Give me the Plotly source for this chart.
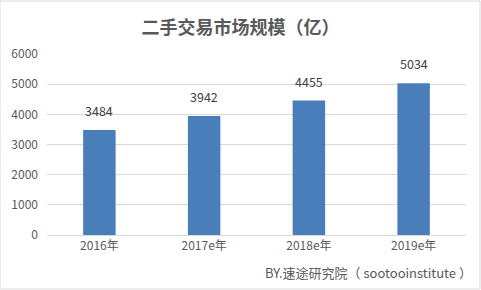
import plotly.graph_objects as go

categories = ["2016年", "2017e年", "2018e年", "2019e年"]
values = [3484, 3942, 4455, 5034]
tick_vals = [0, 1000, 2000, 3000, 4000, 5000, 6000]

fig = go.Figure()
fig.add_trace(go.Bar(
    x=categories, y=values,
    marker=dict(color="#4a7ebb", line=dict(width=0)),
))

for c, v in zip(categories, values):
    fig.add_annotation(x=c, y=v, text=str(v), showarrow=False, yanchor="bottom", yshift=8,
                       font=dict(size=12.5, color="#404040", family="Noto Sans CJK SC, sans-serif"))

fig.update_layout(
    width=481, height=290,
    margin=dict(l=47, r=15, t=54, b=55),
    paper_bgcolor="white", plot_bgcolor="white",
    bargap=0.69,
    showlegend=False,
    font=dict(family="Noto Sans CJK SC, sans-serif", color="#595959", size=12),
    title=dict(text="<b>二手交易市场规模（亿）</b>", x=0.5, xanchor="center", y=0.905, yanchor="middle",
               font=dict(size=18, color="#595959", family="Noto Sans CJK SC, sans-serif")),
    xaxis=dict(showgrid=False, showline=True, linecolor="#d9d9d9", linewidth=1, ticks="",
               tickfont=dict(size=12, color="#595959")),
    yaxis=dict(range=[0, 6000], tickvals=tick_vals, showgrid=True, gridcolor="#d9d9d9", gridwidth=1,
               zeroline=False, showline=False, ticks="", ticklabelstandoff=8,
               tickfont=dict(size=12, color="#595959")),
)

fig.add_annotation(text="BY.速途研究院（ sootooinstitute ）", xref="paper", yref="paper",
                   x=1.02, y=-0.205, xanchor="right", yanchor="middle", showarrow=False,
                   font=dict(size=13, color="#595959", family="Noto Sans CJK SC, sans-serif"))

fig.add_shape(type="rect", xref="paper", yref="paper", x0=-47/419, x1=1+14/419,
              y0=-54/181, y1=1+53/181, line=dict(color="#d9d9d9", width=1))

fig.write_html("out.html")
